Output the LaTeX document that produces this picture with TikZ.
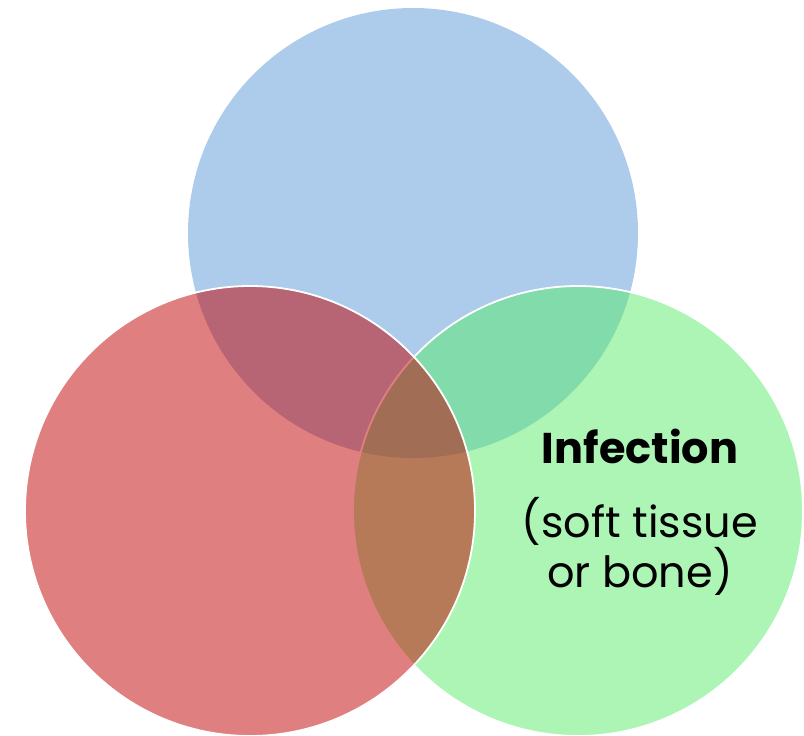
\documentclass[tikz,border=0pt]{standalone}
\usepackage{fontspec}
\setmainfont{Poppins}
\usetikzlibrary{positioning}
\definecolor{vennblue}{RGB}{173,203,234}
\definecolor{venngreen}{RGB}{89,235,107}
\definecolor{vennred}{RGB}{193,0,0}
\begin{document}
\begin{tikzpicture}[x=1pt,y=-1pt,vennset/.style={circle,minimum size=450pt,inner sep=0pt},rim/.style={draw=white,line width=1.8pt},vennlabel/.style={align=center,inner sep=0pt,font=\fontsize{43}{50}\selectfont}]
\useasboundingbox (0,0) rectangle (804,736);
\node[vennset,fill=vennblue] (blue) at (413,233) {};
\node[vennset,rim,fill=venngreen,fill opacity=0.5] (green) at (578,511) {};
\node[vennset,rim,fill=vennred,fill opacity=0.5] (red) at (250,511) {};
\node[vennlabel,anchor=base] (infection) at (640,463) {\textbf{Infection}};
\node[vennlabel,anchor=base] (site) at (640,587) {(soft tissue\\or bone)};
\end{tikzpicture}
\end{document}
